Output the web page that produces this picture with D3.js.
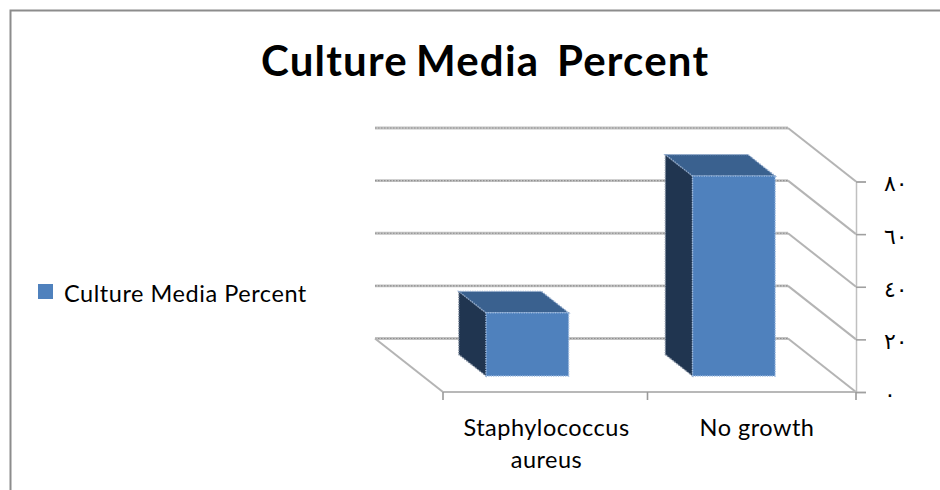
<!DOCTYPE html>
<html>
<head>
<meta charset="utf-8">
<script src="https://cdn.jsdelivr.net/npm/d3@7/dist/d3.min.js"></script>
<style>
html,body{margin:0;padding:0;background:#fff;overflow:hidden}
svg{display:block}
text{font-family:Lato,"Open Sans",sans-serif;fill:#000}
</style>
</head>
<body>
<svg id="chart" width="940" height="490"></svg>
<script>
// Chart content
const chartTitle = ["Culture", "Media", "Percent"];
const seriesName = "Culture Media Percent";
const categories = ["Staphylococcus aureus", "No growth"];
const categoryLines = [["Staphylococcus", "aureus"], ["No growth"]];
const percentValues = [24, 76];
const valueTicks = [0, 20, 40, 60, 80];
const tickLabels = ["٠", "٢٠", "٤٠", "٦٠", "٨٠"];

// Colours of the three visible bar faces
const frontFace = "#4f81bd";
const topFace = "#3a618f";
const sideFace = "#203550";

// Oblique projection: depth runs from the front plane (0) to the back wall (1)
const depthDX = -68, depthDY = -53.5;
const barDepth = [0.3, 0.7];

const x = d3.scaleBand().domain(categories).range([444.5, 857.5])
  .paddingInner(0.6).paddingOuter(0.3);
const y = d3.scaleLinear().domain([0, 80]).range([392, 181.5]);
const axisX = d3.scaleLinear().domain([0, 1, 2]).range([443, 647.5, 856]);
const labelX = d3.scalePoint().domain(categories).range([546.5, 757]);
const titleX = d3.scalePoint().domain(chartTitle).range([261, 557]);

const project = (px, value, depth) => [px + depthDX * depth, y(value) + depthDY * depth];
const svg = d3.select("#chart");
const line = d3.line();

// Outer frame, open on the right and bottom
svg.append("path")
  .attr("d", line([[10.5, 490], [10.5, 10.5], [940, 10.5]]))
  .attr("fill", "none").attr("stroke", "#8c8c8c").attr("stroke-width", 2);

// Title, word by word because of its uneven word spacing
svg.append("g").selectAll("text").data(chartTitle).join("text")
  .attr("x", d => d === "Media" ? 416 : titleX(d)).attr("y", 76)
  .attr("font-size", 42).attr("font-weight", 700).attr("letter-spacing", 1.2)
  .text(d => d);

// Back wall gridlines with a grainy texture
const wall = svg.append("g");
const wallLine = v => line([project(axisX(0), v, 1), project(axisX(2), v, 1)]);
wall.selectAll("path.base").data(valueTicks).join("path")
  .attr("class", "base")
  .attr("d", wallLine)
  .attr("fill", "none").attr("stroke", "#c2c2c2").attr("stroke-width", 2.8);
wall.selectAll("path.grain").data(valueTicks).join("path")
  .attr("class", "grain")
  .attr("d", wallLine)
  .attr("fill", "none").attr("stroke", "#8f8f8f").attr("stroke-width", 1.2)
  .attr("stroke-dasharray", "1.5 1.5");

// Side wall lines running from the back wall to the value axis
wall.selectAll("path.side").data(valueTicks).join("path")
  .attr("class", "side")
  .attr("d", v => line([project(axisX(2), v, 1), project(axisX(2), v, 0)]))
  .attr("fill", "none").attr("stroke", "#b4b4b4").attr("stroke-width", 2);

// Left edge of the floor
svg.append("path")
  .attr("d", line([project(axisX(0), 0, 1), project(axisX(0), 0, 0)]))
  .attr("fill", "none").attr("stroke", "#b4b4b4").attr("stroke-width", 2);

// Front-plane axes
const yAxis = d3.axisRight(y).tickValues(valueTicks).tickSize(10).tickFormat((d, i) => tickLabels[i]);
const yG = svg.append("g").attr("transform", "translate(856,0)").call(yAxis);
yG.select(".domain").attr("stroke", "#c0c0c0").attr("stroke-width", 1.5);
yG.selectAll(".tick line").attr("stroke", "#a0a0a0").attr("stroke-width", 1.6);
yG.selectAll(".tick text")
  .attr("x", 28).attr("dy", "0.42em")
  .attr("text-anchor", "start")
  .attr("font-size", 22).attr("letter-spacing", 2)
  .style("font-family", "'DejaVu Serif','DejaVu Sans',serif");

svg.append("path").attr("d", line([[axisX(0), 392], [axisX(2), 392]]))
  .attr("stroke", "#b8b8b8").attr("stroke-width", 2);
svg.append("g").selectAll("line").data([0, 1, 2]).join("line")
  .attr("x1", axisX).attr("x2", axisX).attr("y1", 392).attr("y2", 400)
  .attr("stroke", "#9a9a9a").attr("stroke-width", 1.6);

// Bars: side, top, then front face, each with a dotted edge
const bars = svg.append("g").selectAll("g")
  .data(categories.map((c, i) => ({c, v: percentValues[i]}))).join("g");
const edge = (s, colour) => s.attr("stroke", colour).attr("stroke-width", 1.4).attr("stroke-dasharray", "1.2 1.2");
bars.append("path").attr("fill", sideFace).call(edge, "#7f8c9e")
  .attr("d", d => {
    const l = x(d.c);
    return line([project(l, 0, barDepth[0]), project(l, 0, barDepth[1]), project(l, d.v, barDepth[1]), project(l, d.v, barDepth[0])]) + "Z";
  });
bars.append("path").attr("fill", topFace).call(edge, "#8fa9cc")
  .attr("d", d => {
    const l = x(d.c), r = l + x.bandwidth();
    return line([project(l, d.v, barDepth[0]), project(l, d.v, barDepth[1]), project(r, d.v, barDepth[1]), project(r, d.v, barDepth[0])]) + "Z";
  });
bars.append("path").attr("fill", frontFace).call(edge, "#9dbbe0")
  .attr("d", d => {
    const l = x(d.c), r = l + x.bandwidth();
    return line([project(l, 0, barDepth[0]), project(l, d.v, barDepth[0]), project(r, d.v, barDepth[0]), project(r, 0, barDepth[0])]) + "Z";
  });

// Category labels, wrapped on to two lines where needed
const labels = svg.append("g").selectAll("text").data(categories).join("text")
  .attr("text-anchor", "middle").attr("font-size", 23.5).attr("letter-spacing", 0.5);
labels.selectAll("tspan").data((d, i) => categoryLines[i].map(t => ({t, c: d}))).join("tspan")
  .attr("x", d => labelX(d.c))
  .attr("y", (d, i) => 435.5 + i * 32.5)
  .text(d => d.t);

// Legend
svg.append("rect").attr("x", 38).attr("y", 284).attr("width", 15).attr("height", 15).attr("fill", frontFace);
svg.append("text").attr("x", 64).attr("y", 302).attr("font-size", 23.5).attr("letter-spacing", 0.55).text(seriesName);
</script>
</body>
</html>
